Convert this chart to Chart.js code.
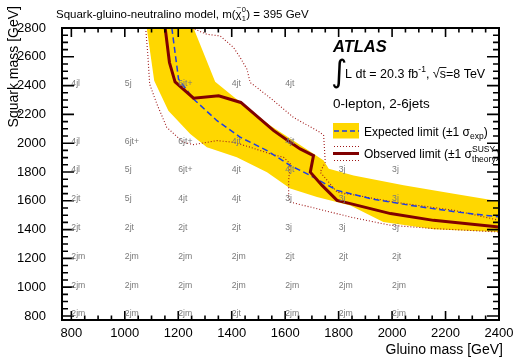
<!DOCTYPE html>
<html>
<head>
<meta charset="utf-8">
<script src="https://cdn.jsdelivr.net/npm/chart.js@4.4.0/dist/chart.umd.min.js"></script>
<style>
  html, body { margin: 0; padding: 0; background: #fff; }
  #wrap { width: 516px; height: 357px; }
</style>
</head>
<body>
<div id="wrap"><canvas id="chart" width="516" height="357"></canvas></div>
<script>
// axis ticks (GeV)
const xTicks = [800, 1000, 1200, 1400, 1600, 1800, 2000, 2200, 2400];
const yTicks = [800, 1000, 1200, 1400, 1600, 1800, 2000, 2200, 2400, 2600, 2800];

// expected limit +-1 sigma band, upper edge (from top) and lower edge (from top)
const bandUpperX = [1257, 1338, 1407, 1544, 1706, 1744, 1763, 1856, 2043, 2231, 2402];
const bandUpperY = [2800, 2426, 2322, 2122, 1926, 1880, 1822, 1776, 1707, 1649, 1596];
const bandLowerX = [1082, 1110, 1163, 1245, 1307, 1419, 1532, 1619, 1719, 1844, 1967, 2155, 2402];
const bandLowerY = [2800, 2433, 2226, 2064, 1972, 1902, 1799, 1686, 1626, 1568, 1453, 1402, 1383];

// expected limit
const expX = [1176, 1201, 1257, 1345, 1432, 1532, 1619, 1694, 1794, 1919, 2069, 2243, 2406];
const expY = [2800, 2445, 2307, 2156, 2041, 1949, 1845, 1776, 1672, 1615, 1568, 1522, 1487];

// observed limit
const obsX = [1151, 1167, 1188, 1257, 1351, 1434, 1557, 1619, 1656, 1706, 1694, 1738, 1794, 1844, 1994, 2155, 2402];
const obsY = [2800, 2560, 2426, 2313, 2329, 2283, 2087, 2006, 1960, 1914, 1799, 1707, 1603, 1580, 1511, 1464, 1418];

// observed +-1 sigma theory
const obsUpX = [1251, 1307, 1357, 1407, 1432, 1457, 1469, 1494, 1557, 1631, 1731, 1744, 1750, 1731, 1763, 1794, 1869, 2006, 2231, 2402];
const obsUpY = [2800, 2756, 2745, 2664, 2594, 2514, 2421, 2387, 2295, 2179, 2075, 2053, 1868, 1799, 1729, 1660, 1637, 1591, 1534, 1464];
const obsDnX = [1078, 1086, 1093, 1120, 1157, 1219, 1257, 1307, 1345, 1407, 1469, 1544, 1594, 1619, 1613, 1613, 1619, 1719, 1844, 1994, 2155, 2402];
const obsDnY = [2800, 2618, 2410, 2272, 2110, 2006, 1990, 2006, 2018, 2006, 1972, 1926, 1902, 1857, 1741, 1626, 1591, 1545, 1487, 1430, 1407, 1383];

// best signal region per grid point
const gridGluino = [800, 1000, 1200, 1400, 1600, 1800, 2000];
const gridSquark = [2400, 2000, 1800, 1600, 1400, 1200, 1000, 800];
const gridLabels = [
  ['4jl', '5j', '6jt+', '4jt', '4jt', '', ''],
  ['4jl', '6jt+', '6jt+', '4jt', '4jt', '', ''],
  ['4jl', '5j', '6jt+', '4jt', '4jt', '3j', '3j'],
  ['2jt', '5j', '4jt', '4jt', '3j', '3j', '3j'],
  ['2jt', '2jt', '2jt', '2jt', '3j', '3j', '3j'],
  ['2jm', '2jm', '2jm', '2jm', '2jt', '2jt', '2jt'],
  ['2jm', '2jm', '2jm', '2jm', '2jm', '2jm', '2jm'],
  ['2jm', '2jm', '2jm', '2jt', '2jm', '2jm', '2jm']
];

const FONT = '"Liberation Sans", Arial, Helvetica, sans-serif';
const YELLOW = '#ffd700';
const BLUE = '#1e3ee6';
const DARKRED = '#800000';
const DOTRED = '#a01818';

function pts(xs, ys) {
  return xs.map((x, i) => ({ x, y: ys[i] }));
}

// closed band polygon: upper edge down, lower edge back up
const bandPoints = pts(bandUpperX, bandUpperY).concat(pts(bandLowerX, bandLowerY).reverse());

/**
 * inward ticks on all four sides + frame
 */
const framePlugin = {
  id: 'frame',
  afterDatasetsDraw(chart) {
    const { ctx, chartArea: a, scales: { x, y } } = chart;
    ctx.save();
    ctx.strokeStyle = '#000';
    ctx.lineWidth = 1.6;
    ctx.beginPath();
    for (let v = xTicks[0]; v <= xTicks[xTicks.length - 1]; v += 50) {
      const px = x.getPixelForValue(v);
      const len = xTicks.includes(v) ? 9 : 4.5;
      ctx.moveTo(px, a.bottom); ctx.lineTo(px, a.bottom - len);
      ctx.moveTo(px, a.top); ctx.lineTo(px, a.top + len);
    }
    for (let v = yTicks[0]; v <= yTicks[yTicks.length - 1]; v += 50) {
      const py = y.getPixelForValue(v);
      const len = yTicks.includes(v) ? 12 : 6;
      ctx.moveTo(a.left, py); ctx.lineTo(a.left + len, py);
      ctx.moveTo(a.right, py); ctx.lineTo(a.right - len, py);
    }
    ctx.stroke();
    ctx.lineWidth = 2;
    ctx.strokeRect(a.left, a.top, a.right - a.left, a.bottom - a.top);

    // signal region names
    ctx.fillStyle = '#7a7a7a';
    ctx.font = '8.7px ' + FONT;
    ctx.textAlign = 'left';
    ctx.textBaseline = 'alphabetic';
    gridSquark.forEach((sq, r) => {
      gridGluino.forEach((gl, c) => {
        const t = gridLabels[r][c];
        if (t) ctx.fillText(t, x.getPixelForValue(gl), y.getPixelForValue(sq) + 0.5);
      });
    });
    ctx.restore();
  }
};

// draws a run of text pieces; returns end x
function rich(ctx, x, y, parts) {
  parts.forEach(p => {
    if (p.stack) {
      ctx.font = p.size + 'px ' + FONT;
      ctx.fillText(p.sup, x, y - p.up);
      ctx.fillText(p.sub, x, y + p.down);
      x += Math.max(ctx.measureText(p.sup).width, ctx.measureText(p.sub).width);
      return;
    }
    ctx.font = (p.style || '') + ' ' + p.size + 'px ' + FONT;
    ctx.fillText(p.t, x, y + (p.dy || 0));
    x += ctx.measureText(p.t).width;
  });
  return x;
}

/**
 * titles, ATLAS label, legend
 */
const labelsPlugin = {
  id: 'labels',
  afterDraw(chart) {
    const { ctx } = chart;
    ctx.save();
    ctx.fillStyle = '#000';
    ctx.textAlign = 'left';
    ctx.textBaseline = 'alphabetic';

    // top title
    let x = rich(ctx, 56, 17.5, [{ t: 'Squark-gluino-neutralino model, m(', size: 11.5 }]);
    ctx.font = '11.5px ' + FONT;
    ctx.fillText('\u03c7', x, 17.5);
    const chiW = ctx.measureText('\u03c7').width;
    ctx.font = '8px ' + FONT;
    ctx.fillText('~', x + 1, 9.5);
    x = rich(ctx, x + chiW, 17.5, [{ stack: true, sup: '0', sub: '1', size: 7.5, up: 6, down: 3 }]);
    rich(ctx, x + 0.5, 17.5, [{ t: ') = 395 GeV', size: 11.5 }]);

    // axis titles
    ctx.font = '14px ' + FONT;
    ctx.textAlign = 'right';
    ctx.textBaseline = 'middle';
    ctx.fillText('Gluino mass [GeV]', 503, 350);
    ctx.save();
    ctx.translate(14, 6);
    ctx.rotate(-Math.PI / 2);
    ctx.fillText('Squark mass [GeV]', 0, 0);
    ctx.restore();
    ctx.textAlign = 'left';
    ctx.textBaseline = 'alphabetic';

    // ATLAS block
    ctx.font = 'italic bold 16.5px ' + FONT;
    ctx.fillText('ATLAS', 333, 51.5);
    ctx.font = '31px "DejaVu Sans", sans-serif';
    ctx.fillText('\u222b', 331, 82);
    x = rich(ctx, 345, 78, [
      { t: 'L dt = 20.3 fb', size: 12.5 },
      { t: '-1', size: 8.5, dy: -6 },
      { t: ', ', size: 12.5 }
    ]);
    ctx.font = '12.5px ' + FONT;
    ctx.fillText('\u221a', x, 78);
    const rw = ctx.measureText('\u221a').width;
    const sw = ctx.measureText('s').width;
    ctx.lineWidth = 0.9;
    ctx.beginPath();
    ctx.moveTo(x + rw - 0.5, 67.5);
    ctx.lineTo(x + rw + sw + 0.5, 67.5);
    ctx.stroke();
    rich(ctx, x + rw, 78, [{ t: 's=8 TeV', size: 12.5 }]);

    rich(ctx, 333, 108, [{ t: '0-lepton, 2-6jets', size: 13.5 }]);

    // legend: expected
    ctx.fillStyle = YELLOW;
    ctx.fillRect(333, 123, 26, 15.5);
    ctx.strokeStyle = BLUE;
    ctx.lineWidth = 1.6;
    ctx.setLineDash([5, 3]);
    ctx.beginPath();
    ctx.moveTo(334, 131); ctx.lineTo(359, 131);
    ctx.stroke();

    // legend: observed
    ctx.strokeStyle = DOTRED;
    ctx.lineWidth = 1.1;
    ctx.setLineDash([1, 2]);
    ctx.beginPath();
    ctx.moveTo(334, 146.5); ctx.lineTo(359, 146.5);
    ctx.moveTo(334, 160.5); ctx.lineTo(359, 160.5);
    ctx.stroke();
    ctx.setLineDash([]);
    ctx.strokeStyle = DARKRED;
    ctx.lineWidth = 3;
    ctx.beginPath();
    ctx.moveTo(333, 153.5); ctx.lineTo(359, 153.5);
    ctx.stroke();

    ctx.fillStyle = '#000';
    rich(ctx, 364, 136, [
      { t: 'Expected limit (\u00b11 \u03c3', size: 12 },
      { t: 'exp', size: 8.5, dy: 3 },
      { t: ')', size: 12 }
    ]);
    rich(ctx, 364, 158, [
      { t: 'Observed limit (\u00b11 \u03c3', size: 12 },
      { stack: true, sup: 'SUSY', sub: 'theory', size: 8.5, up: 6, down: 3.5 },
      { t: ')', size: 12 }
    ]);
    ctx.restore();
  }
};

function line(data, color, width, dash, order) {
  return {
    data, showLine: true, borderColor: color, borderWidth: width,
    borderDash: dash, pointRadius: 0, fill: false, tension: 0, order
  };
}

const plain = v => String(v);

new Chart(document.getElementById('chart'), {
  type: 'scatter',
  data: {
    datasets: [
      line(pts(obsX, obsY), DARKRED, 3, [], 0),
      line(pts(expX, expY), BLUE, 1.5, [6, 3.5], 1),
      line(pts(obsUpX, obsUpY), DOTRED, 1.1, [1, 2], 2),
      line(pts(obsDnX, obsDnY), DOTRED, 1.1, [1, 2], 2),
      {
        data: bandPoints, showLine: true, borderWidth: 0, borderColor: YELLOW,
        backgroundColor: YELLOW, fill: 'shape', pointRadius: 0, tension: 0, order: 5
      }
    ]
  },
  options: {
    responsive: false,
    animation: false,
    layout: { padding: { top: 28, right: 17, left: 0, bottom: 0 } },
    plugins: { legend: { display: false }, tooltip: { enabled: false } },
    scales: {
      x: {
        type: 'linear', min: 765, max: 2400,
        grid: { display: false }, border: { display: false },
        afterBuildTicks: s => { s.ticks = xTicks.map(v => ({ value: v })); },
        afterFit: s => { s.height = 37; },
        ticks: { color: '#000', font: { family: FONT, size: 13 }, padding: -2, maxRotation: 0, callback: plain }
      },
      y: {
        type: 'linear', min: 772, max: 2800,
        grid: { display: false }, border: { display: false },
        afterBuildTicks: s => { s.ticks = yTicks.map(v => ({ value: v })); },
        afterFit: s => { s.width = 62; },
        ticks: { color: '#000', font: { family: FONT, size: 13 }, padding: 8, callback: plain }
      }
    }
  },
  plugins: [framePlugin, labelsPlugin]
});
</script>
</body>
</html>
